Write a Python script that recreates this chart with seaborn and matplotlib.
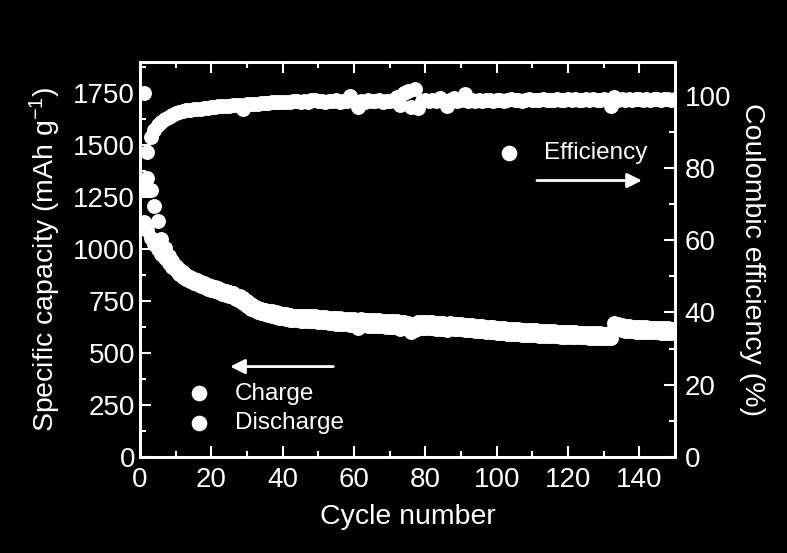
import matplotlib
matplotlib.use("Agg")
import matplotlib.pyplot as plt
from matplotlib.ticker import MultipleLocator
import seaborn as sns
import pandas as pd

# cycle number 1..150
cycles = list(range(1, 151))

# discharge capacity (mAh/g)
discharge = [
    1752, 1340, 1285, 1205, 1135, 1050, 1005, 968, 942, 920,
    902, 888, 876, 866, 857, 849, 842, 835, 829, 823,
    817, 811, 805, 799, 793, 787, 781, 774, 764, 750,
    737, 727, 719, 713, 708, 704, 700, 696, 692, 689,
    686, 683, 680, 678, 676, 676, 677, 678, 677, 675,
    673, 672, 670, 669, 668, 667, 666, 665, 664, 663,
    650, 662, 661, 660, 659, 658, 657, 656, 655, 654,
    653, 652, 648, 650, 646, 636, 642, 649, 650, 649,
    648, 647, 646, 645, 644, 640, 643, 642, 640, 638,
    637, 635, 633, 632, 630, 628, 627, 625, 624, 622,
    621, 619, 618, 617, 615, 614, 613, 612, 611, 610,
    609, 608, 607, 606, 605, 604, 603, 602, 601, 601,
    600, 599, 598, 598, 597, 596, 596, 595, 595, 594,
    593, 592, 645, 638, 634, 631, 629, 627, 626, 625,
    624, 623, 622, 621, 621, 620, 619, 619, 618, 618,
]

# charge capacity (mAh/g)
charge = [
    1130, 1090, 1055, 1025, 1000, 975, 955, 935, 915, 898,
    882, 868, 856, 846, 838, 830, 823, 816, 810, 804,
    798, 792, 786, 780, 774, 768, 761, 752, 740, 726,
    714, 705, 698, 692, 687, 682, 678, 674, 670, 667,
    664, 661, 659, 657, 655, 654, 653, 654, 653, 651,
    649, 647, 645, 644, 642, 641, 640, 638, 637, 635,
    622, 634, 633, 632, 631, 630, 629, 628, 627, 626,
    625, 624, 618, 622, 616, 600, 612, 621, 622, 621,
    620, 619, 618, 617, 616, 610, 619, 618, 616, 614,
    613, 611, 609, 608, 606, 604, 603, 601, 600, 598,
    597, 595, 594, 593, 591, 590, 589, 588, 587, 586,
    585, 584, 583, 582, 581, 580, 580, 579, 578, 578,
    577, 576, 576, 575, 575, 574, 574, 573, 573, 572,
    572, 571, 622, 615, 611, 608, 606, 604, 603, 602,
    601, 600, 600, 599, 599, 598, 598, 597, 597, 596,
]

# coulombic efficiency (%)
efficiency = [
    74.0, 84.5, 88.5, 90.5, 91.8, 92.8, 93.6, 94.2, 94.7, 95.1,
    95.4, 95.7, 95.9, 96.0, 96.2, 96.3, 96.4, 96.6, 96.7, 96.8,
    96.9, 97.0, 97.0, 97.1, 97.2, 97.3, 97.3, 97.4, 96.4, 97.6,
    97.7, 97.8, 97.8, 97.9, 98.0, 98.0, 98.1, 98.1, 98.2, 98.2,
    98.3, 98.1, 98.4, 98.6, 98.3, 98.5, 98.2, 98.7, 98.9, 98.4,
    98.6, 98.3, 98.5, 98.4, 98.7, 98.3, 98.6, 98.4, 99.8, 98.5,
    96.8, 98.6, 98.3, 98.7, 98.4, 98.5, 98.8, 98.3, 98.6, 98.4,
    98.7, 99.6, 97.4, 100.8, 101.4, 96.8, 101.7, 96.5, 98.6, 98.8,
    98.5, 98.7, 98.4, 99.4, 98.6, 97.2, 98.8, 99.2, 98.5, 98.7,
    100.4, 98.6, 98.9, 98.5, 98.8, 98.6, 98.9, 98.7, 98.5, 98.8,
    98.9, 98.6, 98.8, 99.0, 98.7, 98.9, 98.6, 98.8, 99.0, 98.7,
    98.9, 98.8, 99.1, 98.7, 98.9, 98.8, 99.0, 98.7, 98.9, 99.1,
    98.8, 99.0, 98.7, 98.9, 99.1, 98.8, 99.0, 98.9, 98.7, 99.0,
    98.9, 97.0, 99.6, 98.8, 99.0, 98.9, 99.1, 98.8, 99.0, 99.1,
    98.9, 99.0, 98.8, 99.1, 99.0, 98.9, 99.1, 99.0, 98.8, 99.0,
]

df = pd.DataFrame({
    "cycle": cycles,
    "Charge": charge,
    "Discharge": discharge,
    "Efficiency": efficiency,
})

sns.set_style("ticks")
plt.rcParams["font.family"] = ["Liberation Sans", "DejaVu Sans"]
plt.rcParams["mathtext.fontset"] = "custom"
plt.rcParams["mathtext.rm"] = "Liberation Sans"
plt.rcParams["mathtext.it"] = "Liberation Sans"

fg = "white"
fig = plt.figure(figsize=(7.87, 5.53), dpi=100, facecolor="black")
ax = fig.add_axes([0.1779, 0.1736, 0.6798, 0.7143])
ax.set_facecolor("black")
ax2 = ax.twinx()

mk = dict(s=115, color=fg, linewidth=0, marker="o")
sns.scatterplot(data=df, x="cycle", y="Discharge", ax=ax, label="Discharge", zorder=3, **mk)
sns.scatterplot(data=df, x="cycle", y="Charge", ax=ax, label="Charge", zorder=3, **mk)
sns.scatterplot(data=df, x="cycle", y="Efficiency", ax=ax2, label="Efficiency", zorder=3, **mk)

ax.set_xlim(0, 150)
ax.set_ylim(0, 1900)
ax2.set_ylim(0, 109.3)

ax.xaxis.set_major_locator(MultipleLocator(20))
ax.xaxis.set_minor_locator(MultipleLocator(10))
ax.yaxis.set_major_locator(MultipleLocator(250))
ax.yaxis.set_minor_locator(MultipleLocator(125))
ax2.yaxis.set_major_locator(MultipleLocator(20))
ax2.yaxis.set_minor_locator(MultipleLocator(10))

tick_fs = 20
lab_fs = 20.5
ax.tick_params(axis="both", which="both", direction="in", colors=fg,
               labelsize=tick_fs, width=1.5, top=True, right=False)
ax.tick_params(which="major", length=8)
ax.tick_params(which="minor", length=4)
ax.tick_params(axis="x", pad=7)
ax2.tick_params(axis="y", which="both", direction="in", colors=fg,
                labelsize=tick_fs, width=1.5, pad=7)
ax2.tick_params(which="major", length=8)
ax2.tick_params(which="minor", length=4)
for a in (ax, ax2):
    for sp in a.spines.values():
        sp.set_color(fg)
        sp.set_linewidth(2)

ax.set_xlabel("Cycle number", fontsize=lab_fs, color=fg, labelpad=8)
ax.set_ylabel("Specific capacity (mAh g$^{-1}$)", fontsize=lab_fs, color=fg, labelpad=7)
ax2.set_ylabel("Coulombic efficiency (%)", fontsize=lab_fs, color=fg,
               rotation=270, labelpad=24)

# legends
h, l = ax.get_legend_handles_labels()
order = [l.index("Charge"), l.index("Discharge")]
leg = ax.legend([h[i] for i in order], [l[i] for i in order],
                loc="upper left", bbox_to_anchor=(0.07, 0.213),
                frameon=False, fontsize=17.5, handlelength=1.0,
                handletextpad=0.95, labelspacing=0.32, markerscale=1.05,
                borderaxespad=0)
for t in leg.get_texts():
    t.set_color(fg)
leg2 = ax2.legend(loc="upper left", bbox_to_anchor=(0.648, 0.822),
                  frameon=False, fontsize=17.5, handlelength=1.0,
                  handletextpad=0.95, markerscale=1.05, borderaxespad=0)
for t in leg2.get_texts():
    t.set_color(fg)

# direction arrows
arrow = dict(arrowstyle="-|>", color=fg, lw=2, mutation_scale=22)
ax.annotate("", xy=(24.5, 435), xytext=(55, 435), arrowprops=arrow)
ax2.annotate("", xy=(141.5, 76.5), xytext=(110.5, 76.5), arrowprops=arrow)

fig.savefig("out.png", dpi=100, facecolor="black")
